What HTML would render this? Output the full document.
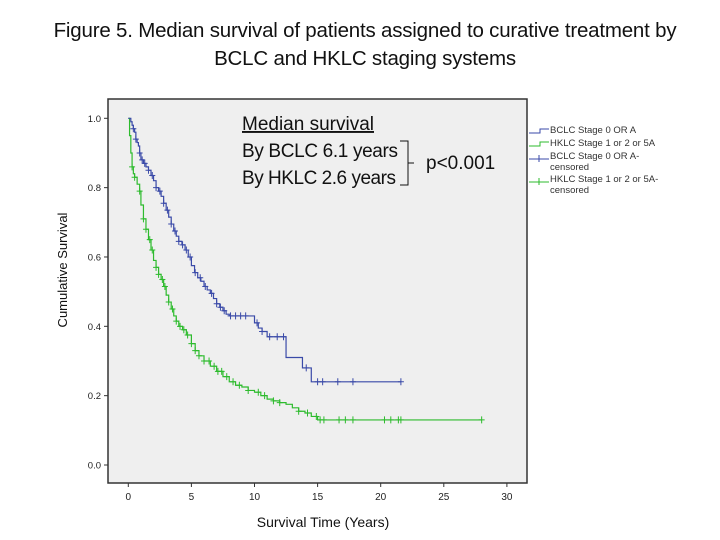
<!DOCTYPE html>
<html><head><meta charset="utf-8"><style>
body{margin:0;background:#fff;font-family:"Liberation Sans",sans-serif}
#wrap{position:relative;width:720px;height:540px;overflow:hidden}
.title{position:absolute;left:0;width:730px;text-align:center;font-size:20.5px;color:#111;top:17px;line-height:28px;letter-spacing:-0.2px}
</style></head><body>
<div id="wrap">
<div class="title">Figure 5. Median survival of patients assigned to curative treatment by<br>BCLC and HKLC staging systems</div>
<svg id="chart" width="720" height="540" style="position:absolute;left:0;top:0"></svg>
</div>
<script>
const xTicks=[0,5,10,15,20,25,30];
const yTicks=[0.0,0.2,0.4,0.6,0.8,1.0];
const bclcT=[0,0.2,0.3,0.4,0.5,0.6,0.7,0.8,0.9,1,1.2,1.4,1.6,1.8,2,2.2,2.4,2.6,2.8,3,3.2,3.4,3.6,3.8,4,4.25,4.5,4.75,5,5.25,5.5,5.75,6,6.25,6.5,6.75,7,7.25,7.5,7.75,8,9.7,10,10.3,10.6,11,12.5,13.8,14.5,21.6];
const bclcS=[1,0.99,0.98,0.97,0.96,0.94,0.93,0.92,0.90,0.88,0.87,0.86,0.85,0.835,0.82,0.80,0.79,0.775,0.755,0.735,0.715,0.695,0.675,0.66,0.645,0.635,0.62,0.60,0.575,0.555,0.54,0.53,0.515,0.505,0.495,0.48,0.465,0.455,0.445,0.435,0.43,0.43,0.41,0.395,0.385,0.37,0.31,0.28,0.24,0.24];
const hklcT=[0,0.1,0.2,0.3,0.4,0.5,0.7,0.9,1,1.2,1.4,1.6,1.8,2,2.2,2.4,2.6,2.8,3,3.2,3.4,3.6,3.8,4,4.3,4.6,5,5.3,5.6,6,6.5,7,7.5,8,8.5,9,9.5,10,10.5,11,11.5,12,12.5,13,13.5,14,14.5,15,28];
const hklcS=[1,0.95,0.90,0.86,0.84,0.83,0.81,0.79,0.75,0.71,0.68,0.65,0.62,0.59,0.57,0.55,0.535,0.515,0.49,0.47,0.45,0.43,0.415,0.40,0.39,0.375,0.35,0.33,0.315,0.30,0.285,0.27,0.255,0.24,0.23,0.225,0.215,0.21,0.20,0.19,0.185,0.18,0.175,0.165,0.155,0.15,0.14,0.13,0.13];
const bclcCens=[0.4,0.6,0.9,1.1,1.3,1.6,1.9,2.2,2.5,2.8,3.1,3.4,3.7,4.0,4.3,4.6,4.9,5.3,5.7,6.1,6.6,7.0,7.3,7.6,8.1,8.5,8.9,9.3,10.2,10.6,11.2,11.8,12.3,14.1,15.0,15.4,16.6,17.8,21.6];
const hklcCens=[0.3,0.5,0.9,1.2,1.4,1.7,1.9,2.2,2.4,2.7,2.9,3.2,3.5,3.8,4.1,4.4,4.7,5.0,5.3,5.6,6.0,6.4,6.8,7.1,7.4,7.8,8.3,8.8,9.5,10.3,10.8,11.5,12.0,13.5,14.2,14.9,15.2,15.5,16.7,17.2,17.8,20.3,20.8,21.4,21.6,28];
const X=v=>128.3+v*12.62, Y=v=>465-v*346.7;
const svg=document.getElementById('chart'),NS='http://www.w3.org/2000/svg';
function mk(t,a,p){const e=document.createElementNS(NS,t);for(const k in a)e.setAttribute(k,a[k]);(p||svg).appendChild(e);return e;}
const frame=mk('rect',{x:108,y:99,width:419,height:384,fill:'#efefef',stroke:'#333','stroke-width':1.5});


xTicks.forEach(v=>{mk('line',{x1:X(v),x2:X(v),y1:483,y2:487,stroke:'#333'});
const t=mk('text',{x:X(v),y:500,'text-anchor':'middle','font-size':10,fill:'#222'});t.textContent=v;

});
yTicks.forEach(v=>{mk('line',{x1:104,x2:108,y1:Y(v),y2:Y(v),stroke:'#333'});
const t=mk('text',{x:101,y:Y(v)+3.5,'text-anchor':'end','font-size':9.5,fill:'#222'});t.textContent=v.toFixed(1);

});
function stepY(T,S,t){let s=S[0];for(let i=0;i<T.length;i++){if(T[i]<=t)s=S[i];}return s;}
function curve(T,S,C,col,name){let d='M'+X(T[0])+','+Y(S[0]);
for(let i=1;i<T.length;i++){d+='H'+X(T[i])+'V'+Y(S[i]);}
const p=mk('path',{d:d,fill:'none',stroke:col,'stroke-width':1.2});


C.forEach(c=>{const y=Y(stepY(T,S,c)),x=X(c);
const g=mk('path',{d:`M${x-3},${y}H${x+3}M${x},${y-3.5}V${y+3.5}`,stroke:col,'stroke-width':1});

});}
curve(hklcT,hklcS,hklcCens,'#2dbb2d','hklc');
curve(bclcT,bclcS,bclcCens,'#3a4aa8','bclc');
function txt(x,y,s,sz,attrs,name){const t=mk('text',Object.assign({x:x,y:y,'font-size':sz,fill:'#111'},attrs||{}));t.textContent=s;

return t;}
txt(242,130,'Median survival',19,{'text-decoration':'underline'},'annotation-heading');
txt(242,157,'By BCLC  6.1 years',19,{'xml:space':'preserve',textLength:156},'annotation-bclc');
txt(242,184,'By HKLC 2.6 years',19,{textLength:154},'annotation-hklc');
mk('path',{d:'M400,141H408V185H400M408,163H414',fill:'none',stroke:'#111','stroke-width':1});
txt(426,169,'p<0.001',19,{},'p-value');
txt(0,0,'Cumulative Survival',13,{transform:'translate(67,270) rotate(-90)','text-anchor':'middle'},'y-axis-title');
txt(323,527,'Survival Time (Years)',14,{'text-anchor':'middle'},'x-axis-title');
const leg=[['#3a4aa8','BCLC Stage 0 OR A',null,'step'],['#2dbb2d','HKLC Stage 1 or 2 or 5A',null,'step'],['#3a4aa8','BCLC Stage 0 OR A-','censored','cens'],['#2dbb2d','HKLC Stage 1 or 2 or 5A-','censored','cens']];
const ly=[131,144,157,180];
leg.forEach((l,i)=>{const y=ly[i];
if(l[3]=='step')mk('path',{d:`M529,${y+2}H540V${y-2}H549`,fill:'none',stroke:l[0]});
else mk('path',{d:`M529,${y+2}H549M539,${y-2}V${y+5}`,fill:'none',stroke:l[0]});
txt(550,y+2,l[1],9.5,{fill:'#333'},'legend-entry');
if(l[2])txt(550,y+13,l[2],9.5,{fill:'#333'},'legend-entry-cont');});
</script>
</body></html>
